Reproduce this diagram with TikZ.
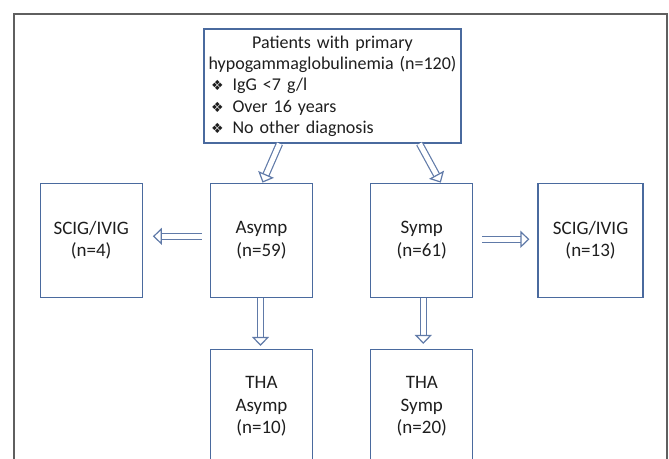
\documentclass[tikz,border=0pt]{standalone}
\usepackage{fontspec}
\setmainfont{Carlito}
\newfontfamily\symfont{DejaVu Sans}
\usetikzlibrary{positioning, calc}
\usetikzlibrary{arrows.meta}

\newcommand{\bul}{\hspace*{3pt}{\symfont\fontsize{14}{14}\selectfont ❖}\hspace{9pt}}

\begin{document}
\begin{tikzpicture}[x=1pt, y=-1pt, align=center, line width=1.3pt,
    box/.style={draw=boxblue, text=textdark, minimum width=102pt, minimum height=114pt, inner sep=0pt, font=\fontsize{19}{22.5}\selectfont},
    harrow/.style={draw=arrowblue, double=white, double distance=5pt, line width=1.2pt, -{Triangle[open, length=9pt, width=17pt]}}]
        % Define colors
        \definecolor{boxblue}{RGB}{74,106,158}
        \definecolor{arrowblue}{RGB}{96,122,168}
        \definecolor{framegrey}{RGB}{95,95,95}
        \definecolor{textdark}{RGB}{30,30,30}

        \useasboundingbox (0,0) rectangle (669,458);
        \draw[framegrey, line width=2pt] (14,475) -- (14,14) -- (667,14) -- (667,475);

        % Nodes
        \node[box, minimum width=257pt, text width=249pt, align=left, font=\fontsize{18}{21.3}\selectfont] (top) at (332.5,86)
            {{\centering Patients with primary\\ hypogammaglobulinemia (n=120)\par}
             \bul IgG <7 g/l\\ \bul Over 16 years\\ \bul No other diagnosis};
        \node[box, below=39pt of top, xshift=-71pt] (asymp) {Asymp\\(n=59)};
        \node[box, right=57pt of asymp] (symp) {Symp\\(n=61)};
        \node[box, left=67pt of asymp] (scigA) {SCIG/IVIG\\(n=4)};
        \node[box, right=64pt of symp, minimum width=105pt] (scigS) {SCIG/IVIG\\(n=13)};
        \node[box, below=51pt of asymp] (thaA) {THA\\Asymp\\(n=10)};
        \node[box, below=51pt of symp] (thaS) {THA\\Symp\\(n=20)};

        % Edges
        \draw[harrow] ([xshift=-53pt]top.south) -- ([xshift=1pt]asymp.north);
        \draw[harrow] ([xshift=87pt]top.south) -- ([xshift=19pt]symp.north);
        \draw[harrow] ([shift={(-8pt,4pt)}]asymp.west) -- ([shift={(10pt,4pt)}]scigA.east);
        \draw[harrow] ([shift={(9pt,1pt)}]symp.east) -- ([shift={(-8pt,1pt)}]scigS.west);
        \draw[harrow] ([xshift=-1pt]asymp.south) -- ([shift={(-1pt,3pt)}]thaA.north);
        \draw[harrow] ([xshift=1.5pt]symp.south) -- ([shift={(1.5pt,5pt)}]thaS.north);
    \end{tikzpicture}
\end{document}
